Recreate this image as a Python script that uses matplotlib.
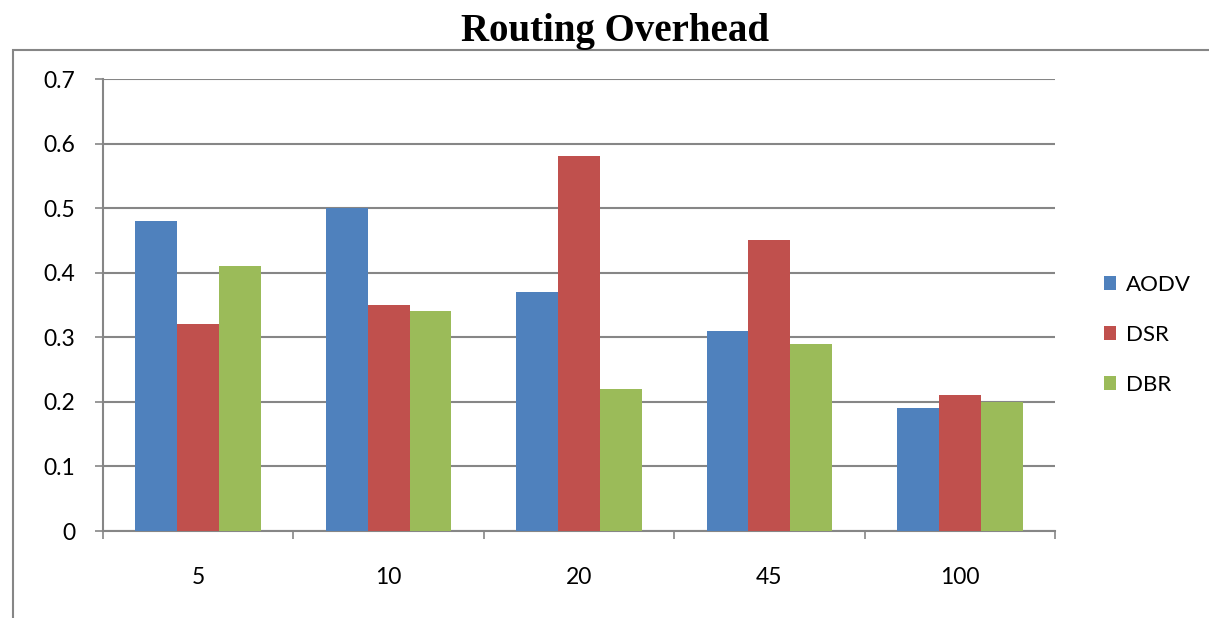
import matplotlib
matplotlib.use("Agg")
import matplotlib.pyplot as plt
from matplotlib.patches import Rectangle
import numpy as np

categories = ["5", "10", "20", "45", "100"]
series_names = ["AODV", "DSR", "DBR"]
aodv = [0.48, 0.50, 0.37, 0.31, 0.19]
dsr = [0.32, 0.35, 0.58, 0.45, 0.21]
dbr = [0.41, 0.34, 0.22, 0.29, 0.20]
y_ticks = [0, 0.1, 0.2, 0.3, 0.4, 0.5, 0.6, 0.7]
y_tick_labels = ["0", "0.1", "0.2", "0.3", "0.4", "0.5", "0.6", "0.7"]

colors = ["#4F81BD", "#C0504D", "#9BBB59"]
grid_color = "#868686"

plt.rcParams["font.family"] = ["Lato", "DejaVu Sans"]

W, H = 1209, 618
fig = plt.figure(figsize=(W / 100, H / 100), dpi=100)
ax = fig.add_axes([103 / W, 1 - 531 / H, (1055 - 103) / W, (531 - 79) / H])

x = np.arange(len(categories))
bw = 0.22
for i, (vals, name) in enumerate(zip([aodv, dsr, dbr], series_names)):
    ax.bar(x + (i - 1) * bw, vals, width=bw, color=colors[i], label=name,
           zorder=3, linewidth=0)

ax.set_xlim(-0.5, len(categories) - 0.5)
ax.set_ylim(0, 0.7)
ax.set_yticks(y_ticks)
ax.set_yticklabels(y_tick_labels)
ax.set_xticks(x)
ax.set_xticklabels(categories)
ax.tick_params(axis="x", length=0, pad=26, labelsize=16.5)
ax.tick_params(axis="y", length=6, width=1.2, color=grid_color, pad=14,
               labelsize=16.5)
# category boundary ticks on the x-axis
ax.set_xticks(np.arange(len(categories) + 1) - 0.5, minor=True)
ax.tick_params(axis="x", which="minor", length=6, width=1.2, color=grid_color,
               direction="out")

ax.yaxis.grid(True, color=grid_color, linewidth=1.5, zorder=0)
ax.set_axisbelow(True)
for side in ["top", "right"]:
    ax.spines[side].set_visible(False)
for side in ["left", "bottom"]:
    ax.spines[side].set_color(grid_color)
    ax.spines[side].set_linewidth(1.5)

handles, labels = ax.get_legend_handles_labels()
leg = fig.legend(handles, labels, loc="center left",
                 bbox_to_anchor=(1084 / W, 1 - 335 / H), frameon=False,
                 fontsize=16, handlelength=0.55, handleheight=0.55,
                 handletextpad=0.45, labelspacing=1.35)

# outer chart border
fig.patches.append(Rectangle((13 / W, -0.05), 1.1, 1 - 50 / H + 0.05,
                             transform=fig.transFigure, fill=False,
                             edgecolor=grid_color, linewidth=1.5, zorder=0))

fig.text(615 / W, 1 - 32 / H, "Routing Overhead", ha="center", va="center",
         family=["Liberation Serif"], fontweight="bold", fontsize=28)

fig.savefig("out.png", dpi=100)
